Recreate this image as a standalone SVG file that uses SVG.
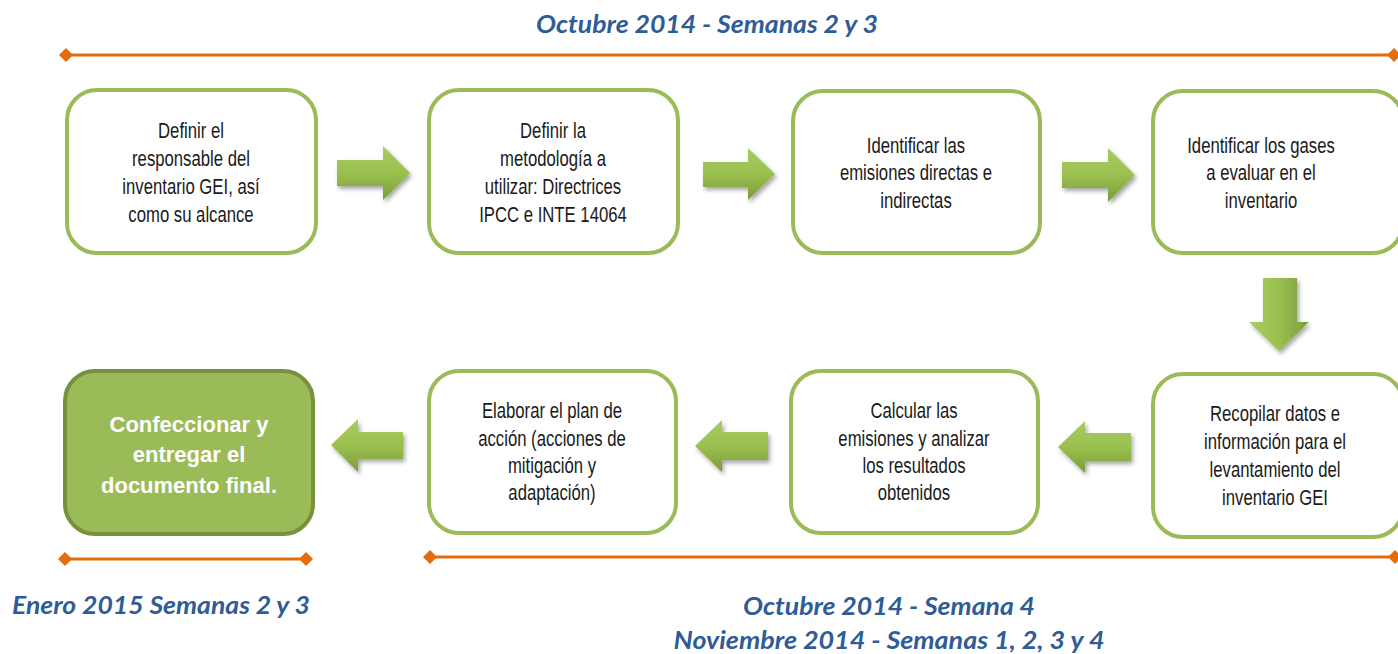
<svg xmlns="http://www.w3.org/2000/svg" width="1398" height="654" viewBox="0 0 1398 654">
<defs>
<style>
.box{fill:#ffffff;stroke:#9BBB59;stroke-width:4}
.final{fill:#9BBB59;stroke:#76923C;stroke-width:4}
.t{font-family:"Liberation Sans",Arial,sans-serif;font-size:22px;fill:#1a1a1a;text-anchor:middle}
.tb{font-family:"Liberation Sans",Arial,sans-serif;font-size:22px;font-weight:bold;fill:#ffffff;text-anchor:middle}
.lbl{font-family:Lato,"Open Sans",sans-serif;font-size:24px;font-weight:bold;font-style:italic;fill:#2F5C97;text-anchor:middle}
.tl{stroke:#E46C0A;stroke-width:3;fill:none}
.dm{fill:#E46C0A}
.arr{fill:url(#ag);filter:url(#sh)}
.arrv{fill:url(#agv);filter:url(#sh)}
</style>
<linearGradient id="ag" x1="0" y1="0" x2="0" y2="1">
<stop offset="0" stop-color="#A9CB62"/>
<stop offset="0.5" stop-color="#9BC04F"/>
<stop offset="1" stop-color="#7A9C3A"/>
</linearGradient>
<linearGradient id="agv" x1="0" y1="0" x2="1" y2="0">
<stop offset="0" stop-color="#A9CB62"/>
<stop offset="0.5" stop-color="#9BC04F"/>
<stop offset="1" stop-color="#7A9C3A"/>
</linearGradient>
<filter id="sh" x="-20%" y="-20%" width="150%" height="150%">
<feDropShadow dx="2" dy="3" stdDeviation="2" flood-color="#000" flood-opacity="0.35"/>
</filter>
</defs>

<g id="timelines">
<text class="lbl" x="707" y="33" textLength="342" lengthAdjust="spacingAndGlyphs">Octubre 2014 - Semanas 2 y 3</text>
<line class="tl" x1="66" y1="55" x2="1394" y2="55"/>
<path class="dm" d="M66 48 L73 55 L66 62 L59 55 Z"/>
<path class="dm" d="M1394 48 L1401 55 L1394 62 L1387 55 Z"/>
<line class="tl" x1="65" y1="559" x2="306" y2="559"/>
<path class="dm" d="M65 552 L72 559 L65 566 L58 559 Z"/>
<path class="dm" d="M306 552 L313 559 L306 566 L299 559 Z"/>
<line class="tl" x1="430" y1="557" x2="1395" y2="557"/>
<path class="dm" d="M430 550 L437 557 L430 564 L423 557 Z"/>
<path class="dm" d="M1395 550 L1402 557 L1395 564 L1388 557 Z"/>
<text class="lbl" x="161" y="614" textLength="298" lengthAdjust="spacingAndGlyphs">Enero 2015 Semanas 2 y 3</text>
<text class="lbl" x="889" y="615" textLength="292" lengthAdjust="spacingAndGlyphs">Octubre 2014 - Semana 4</text>
<text class="lbl" x="889" y="649" textLength="431" lengthAdjust="spacingAndGlyphs">Noviembre 2014 - Semanas 1, 2, 3 y 4</text>
</g>

<g id="n1">
<rect class="box" x="67" y="90" width="249" height="163" rx="30"/>
<g transform="translate(191,0) scale(0.76,1)">
<text class="t" x="0" y="138">Definir el</text>
<text class="t" x="0" y="166">responsable del</text>
<text class="t" x="0" y="194">inventario GEI, así</text>
<text class="t" x="0" y="222">como su alcance</text>
</g>
</g>

<g id="n2">
<rect class="box" x="429" y="90" width="249" height="163" rx="30"/>
<g transform="translate(553,0) scale(0.76,1)">
<text class="t" x="0" y="138">Definir la</text>
<text class="t" x="0" y="166">metodología a</text>
<text class="t" x="0" y="194">utilizar: Directrices</text>
<text class="t" x="0" y="222">IPCC e INTE 14064</text>
</g>
</g>

<g id="n3">
<rect class="box" x="793" y="91" width="247" height="162" rx="30"/>
<g transform="translate(916,0) scale(0.76,1)">
<text class="t" x="0" y="153">Identificar las</text>
<text class="t" x="0" y="180">emisiones directas e</text>
<text class="t" x="0" y="208">indirectas</text>
</g>
</g>

<g id="n4">
<rect class="box" x="1153" y="91" width="250" height="162" rx="30"/>
<g transform="translate(1261,0) scale(0.76,1)">
<text class="t" x="0" y="153">Identificar los gases</text>
<text class="t" x="0" y="180">a evaluar en el</text>
<text class="t" x="0" y="208">inventario</text>
</g>
</g>

<g id="n5">
<rect class="box" x="1153" y="374" width="250" height="163" rx="30"/>
<g transform="translate(1275,0) scale(0.76,1)">
<text class="t" x="0" y="421">Recopilar datos e</text>
<text class="t" x="0" y="449">información para el</text>
<text class="t" x="0" y="477">levantamiento del</text>
<text class="t" x="0" y="505">inventario GEI</text>
</g>
</g>

<g id="n6">
<rect class="box" x="791" y="371" width="247" height="162" rx="30"/>
<g transform="translate(914,0) scale(0.76,1)">
<text class="t" x="0" y="418">Calcular las</text>
<text class="t" x="0" y="446">emisiones y analizar</text>
<text class="t" x="0" y="473">los resultados</text>
<text class="t" x="0" y="500">obtenidos</text>
</g>
</g>

<g id="n7">
<rect class="box" x="429" y="371" width="247" height="162" rx="30"/>
<g transform="translate(552,0) scale(0.76,1)">
<text class="t" x="0" y="418">Elaborar el plan de</text>
<text class="t" x="0" y="446">acción (acciones de</text>
<text class="t" x="0" y="473">mitigación y</text>
<text class="t" x="0" y="500">adaptación)</text>
</g>
</g>

<g id="n8">
<rect class="final" x="65" y="371" width="248" height="163" rx="30"/>
<text class="tb" x="189" y="432">Confeccionar y</text>
<text class="tb" x="189" y="462">entregar el</text>
<text class="tb" x="189" y="493">documento final.</text>
</g>

<g id="connectors">
<path class="arr" d="M337 160 L383 160 L383 146 L410 173 L383 200 L383 186 L337 186 Z"/>
<path class="arr" d="M703 162 L748 162 L748 148 L775 174 L748 200 L748 187 L703 187 Z"/>
<path class="arr" d="M1062 162 L1108 162 L1108 148 L1135 175 L1108 202 L1108 188 L1062 188 Z"/>
<path class="arrv" d="M1263 278 L1297 278 L1297 322 L1309 322 L1279 351 L1249 322 L1263 322 Z"/>
<path class="arr" d="M1131 433 L1085 433 L1085 421 L1058 447 L1085 473 L1085 461 L1131 461 Z"/>
<path class="arr" d="M768 432 L722 432 L722 420 L695 446 L722 472 L722 460 L768 460 Z"/>
<path class="arr" d="M403 432 L358 432 L358 419 L331 445 L358 472 L358 459 L403 459 Z"/>
</g>
</svg>
